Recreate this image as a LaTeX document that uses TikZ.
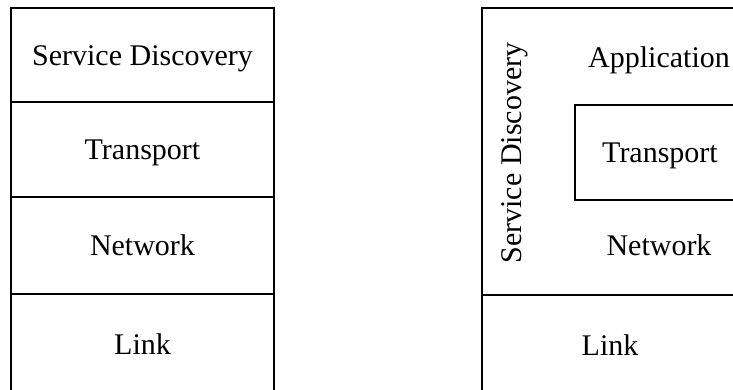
\documentclass[tikz,border=0pt]{standalone}
\usepackage{fontspec}
\setmainfont{Liberation Serif}
\begin{document}
\begin{tikzpicture}[x=1pt,y=-1pt,
  box/.style={draw, line width=2.9pt, inner sep=0pt, outer sep=0pt, anchor=north west,
    text height=20pt, text depth=0pt},
  lbl/.style={inner sep=0pt, text height=20pt, text depth=0pt},
  every node/.append style={font=\fontsize{30}{36}\selectfont}]
\useasboundingbox (0,0) rectangle (733,389);
\clip (0,0) rectangle (733,389);

% classic layered stack
\node[box, minimum width=263pt, minimum height=94pt] (sdL) at (11,8) {Service Discovery};
\node[box, minimum width=263pt, minimum height=95pt] (trL) at (sdL.south west) {Transport};
\node[box, minimum width=263pt, minimum height=97pt] (nwL) at (trL.south west) {Network};
\node[box, minimum width=263pt, minimum height=100pt] (lkL) at (nwL.south west) {Link};

% stack with service discovery spanning the upper layers
\node[box, minimum width=256pt, minimum height=287pt] (upR) at (482,8) {};
\node[box, minimum width=256pt, minimum height=100pt] (lkR) at (upR.south west) {Link};
\node[box, minimum width=170pt, minimum height=95pt] (trR) at (575,105) {Transport};
\node[inner sep=0pt, rotate=90] (sdR) at (515,153) {Service Discovery};
\node[lbl] (apR) at (659,57) {Application};
\node[lbl] (nwR) at (659,245) {Network};
\end{tikzpicture}
\end{document}
